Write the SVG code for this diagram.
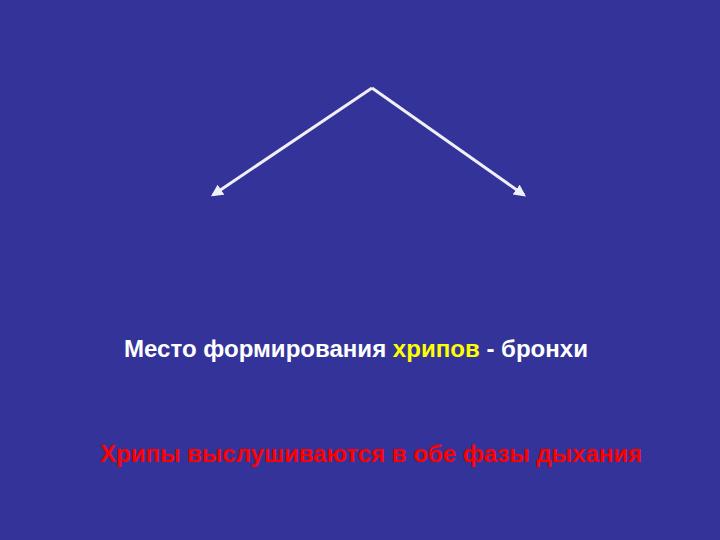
<svg xmlns="http://www.w3.org/2000/svg" width="720" height="540" viewBox="0 0 720 540">
<style>
.t{font-family:"Liberation Sans",Arial,sans-serif;font-weight:bold;font-size:23px}
.a{stroke:#f0f0f8;stroke-width:3;fill:none;marker-end:url(#ah)}
</style>
<defs>
<marker id="ah" viewBox="0 0 10 10" refX="8" refY="5" markerWidth="4" markerHeight="4" orient="auto" markerUnits="strokeWidth">
<path d="M0,0 L10,5 L0,10 z" fill="#f0f0f8"/>
</marker>
</defs>
<rect width="720" height="540" fill="#333399"/>
<g id="connectors">
<path class="a" d="M372,88 L213,195"/>
<path class="a" d="M372,88 L524,195"/>
</g>
<g id="label1">
<text class="t" x="124" y="357" fill="#ffffff" textLength="464" lengthAdjust="spacingAndGlyphs">Место формирования <tspan fill="#ffff00">хрипов</tspan> - бронхи</text>
</g>
<g id="label2">
<text class="t" x="100" y="462" fill="#ff0000" textLength="542" lengthAdjust="spacingAndGlyphs">Хрипы выслушиваются в обе фазы дыхания</text>
</g>
</svg>
